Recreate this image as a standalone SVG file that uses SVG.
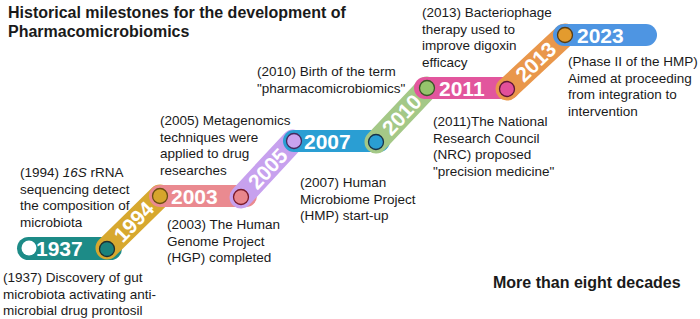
<svg xmlns="http://www.w3.org/2000/svg" width="700" height="319" viewBox="0 0 700 319">
<style>
.t{font-family:"Liberation Sans",Arial,sans-serif;font-size:13.5px;fill:#1a1a1a}
.h{font-family:"Liberation Sans",Arial,sans-serif;font-size:16px;font-weight:bold;fill:#1a1a1a}
.y{font-family:"Liberation Sans",Arial,sans-serif;font-size:21px;font-weight:bold;fill:#ffffff}
.d{stroke-width:23;stroke-linecap:round;fill:none}
.c{stroke-width:1.3}
</style>
<rect width="700" height="319" fill="#ffffff"/>
<g id="title">
<text class="h" x="8" y="18">Historical milestones for the development of</text>
<text class="h" x="8" y="37">Pharmacomicrobiomics</text>
</g>
<g id="connectors">
<rect x="17" y="237" width="105" height="23" rx="11.5" fill="#1d8b87"/>
<line class="d" x1="107" y1="248" x2="160" y2="196" stroke="#d7a82f"/>
<rect x="149" y="185" width="108" height="22" rx="11" fill="#ea8a90"/>
<line class="d" x1="241" y1="197" x2="293" y2="141" stroke="#c7a1ee"/>
<rect x="283" y="130" width="107" height="22" rx="11" fill="#2a9ed3"/>
<line class="d" x1="376" y1="142" x2="427" y2="88" stroke="#a4c887"/>
<rect x="414" y="77" width="106" height="22" rx="11" fill="#e2569d"/>
<line class="d" x1="507" y1="89" x2="565" y2="35" stroke="#e9974b"/>
<rect x="553" y="24" width="104" height="22" rx="11" fill="#4e95e2"/>
</g>
<g id="n1937">
<circle cx="29" cy="248" r="7.5" fill="#ffffff"/>
<text class="y" x="36" y="256">1937</text>
</g>
<g id="n1994">
<circle class="c" cx="107" cy="249" r="7.5" fill="#1a827d" stroke="#1f2f2f"/>
<text class="y" text-anchor="middle" transform="translate(134,222) rotate(-46)" y="7">1994</text>
</g>
<g id="n2003">
<circle class="c" cx="160" cy="196" r="7.5" fill="#d6a52c" stroke="#6a4e12"/>
<text class="y" x="171" y="204">2003</text>
</g>
<g id="n2005">
<circle class="c" cx="241" cy="197" r="7.5" fill="#e9868c" stroke="#7a1a2a"/>
<text class="y" text-anchor="middle" transform="translate(268,169) rotate(-47)" y="7">2005</text>
</g>
<g id="n2007">
<circle class="c" cx="294" cy="141" r="7.5" fill="#c9a3ef" stroke="#45285e"/>
<text class="y" x="304" y="149">2007</text>
</g>
<g id="n2010">
<circle class="c" cx="376" cy="142" r="7.5" fill="#2a9ed3" stroke="#18324a"/>
<text class="y" text-anchor="middle" transform="translate(402,115) rotate(-47)" y="7">2010</text>
</g>
<g id="n2011">
<circle class="c" cx="427" cy="88" r="7.5" fill="#95c46c" stroke="#3a5426"/>
<text class="y" x="439" y="96">2011</text>
</g>
<g id="n2013">
<circle class="c" cx="507" cy="89" r="7.5" fill="#e2509b" stroke="#5e1636"/>
<text class="y" text-anchor="middle" transform="translate(536,62) rotate(-44)" y="7">2013</text>
</g>
<g id="n2023">
<circle class="c" cx="565" cy="35" r="7.5" fill="#e39b2e" stroke="#5a3c10"/>
<text class="y" x="577" y="43">2023</text>
</g>
<g id="labels">
<text class="t" x="3" y="282">(1937) Discovery of gut</text>
<text class="t" x="3" y="298.5">microbiota activating anti-</text>
<text class="t" x="3" y="315">microbial drug prontosil</text>
<text class="t" x="20" y="177">(1994) <tspan font-style="italic">16S</tspan> rRNA</text>
<text class="t" x="20" y="193.5">sequencing detect</text>
<text class="t" x="20" y="210">the composition of</text>
<text class="t" x="20" y="226.5">microbiota</text>
<text class="t" x="167" y="229">(2003) The Human</text>
<text class="t" x="167" y="245.5">Genome Project</text>
<text class="t" x="167" y="262">(HGP) completed</text>
<text class="t" x="160" y="125">(2005) Metagenomics</text>
<text class="t" x="160" y="141.5">techniques were</text>
<text class="t" x="160" y="158">applied to drug</text>
<text class="t" x="160" y="174.5">researches</text>
<text class="t" x="300" y="187">(2007) Human</text>
<text class="t" x="300" y="203.5">Microbiome Project</text>
<text class="t" x="300" y="220">(HMP) start-up</text>
<text class="t" x="257" y="76">(2010) Birth of the term</text>
<text class="t" x="257" y="92.5">"pharmacomicrobiomics"</text>
<text class="t" x="433" y="126">(2011)The National</text>
<text class="t" x="433" y="142.5">Research Council</text>
<text class="t" x="433" y="159">(NRC) proposed</text>
<text class="t" x="433" y="175.5">"precision medicine"</text>
<text class="t" x="422" y="17">(2013) Bacteriophage</text>
<text class="t" x="422" y="33.5">therapy used to</text>
<text class="t" x="422" y="50">improve digoxin</text>
<text class="t" x="422" y="66.5">efficacy</text>
<text class="t" x="568" y="66">(Phase II of the HMP)</text>
<text class="t" x="568" y="82.5">Aimed at proceeding</text>
<text class="t" x="568" y="99">from integration to</text>
<text class="t" x="568" y="115.5">intervention</text>
<text class="h" x="493" y="288">More than eight decades</text>
</g>
</svg>
